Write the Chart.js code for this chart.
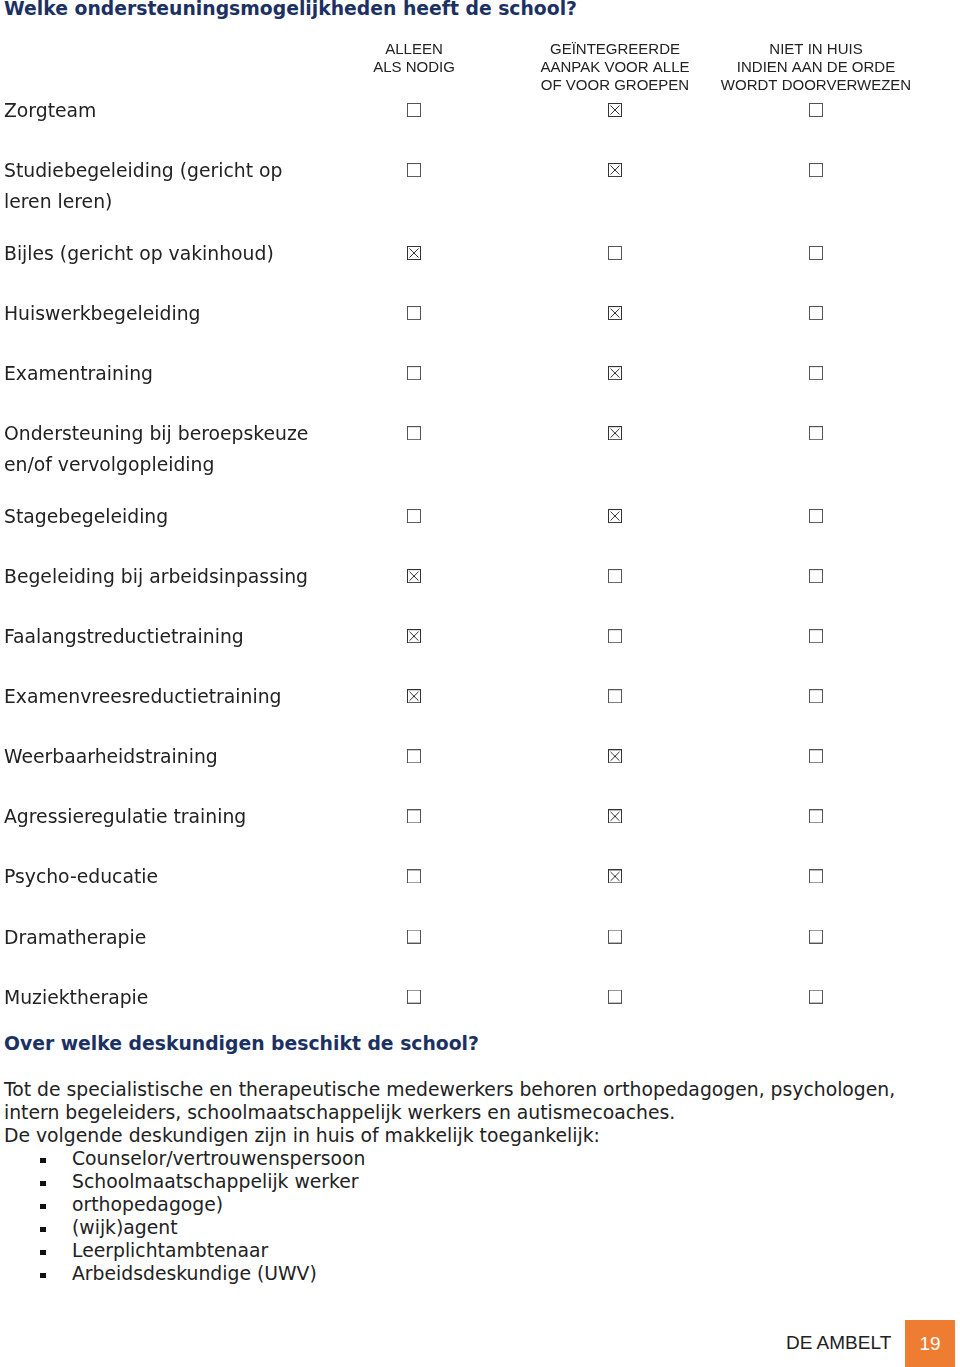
<!DOCTYPE html>
<html lang="nl">
<head>
<meta charset="utf-8">
<title>Ondersteuningsmogelijkheden</title>
<script src="https://cdn.jsdelivr.net/npm/chart.js@4.4.1/dist/chart.umd.min.js"></script>
<style>
  body { margin: 0; width: 960px; height: 1367px; position: relative; overflow: hidden; background: #fff;
         font-family: "DejaVu Sans", Verdana, sans-serif; color: #222; }
  .abs { position: absolute; white-space: nowrap; }
  .head { font-size: 18.8px; font-weight: bold; color: #1c3163; line-height: 23px; left: 4px; }
  .body { font-size: 18.8px; line-height: 23px; left: 4px; }
  .bullets { font-size: 18.8px; line-height: 23px; left: 0; }
  .bullets div { position: relative; padding-left: 72px; }
  .bullets div::before { content: ''; position: absolute; left: 40px; top: 11px; width: 6px; height: 5px; background: #111; }
  #grid { position: absolute; left: 0; top: 30px; }
  .footer { font-family: "Liberation Sans", Arial, sans-serif; font-size: 19px; }
  .pageno { left: 905px; top: 1320px; width: 50px; height: 47px; background: #ee7d32; color: #fff;
            line-height: 47px; text-align: center; }
</style>
</head>
<body>
<div class="abs head" style="top:-3px">Welke ondersteuningsmogelijkheden heeft de school?</div>
<canvas id="grid" width="960" height="987"></canvas>

<div class="abs head" style="top:1032px">Over welke deskundigen beschikt de school?</div>
<div class="abs body" style="top:1078px">
  Tot de specialistische en therapeutische medewerkers behoren orthopedagogen, psychologen,<br>
  intern begeleiders, schoolmaatschappelijk werkers en autismecoaches.<br>
  De volgende deskundigen zijn in huis of makkelijk toegankelijk:
</div>
<div class="abs bullets" id="experts" style="top:1147px"></div>

<div class="abs footer" style="left:786px; top:1332px;">DE AMBELT</div>
<div class="abs footer pageno">19</div>

<script>
// rows of the table
const rowLabels = [
    'Zorgteam',
    ['Studiebegeleiding (gericht op', 'leren leren)'],
    'Bijles (gericht op vakinhoud)',
    'Huiswerkbegeleiding',
    'Examentraining',
    ['Ondersteuning bij beroepskeuze', 'en/of vervolgopleiding'],
    'Stagebegeleiding',
    'Begeleiding bij arbeidsinpassing',
    'Faalangstreductietraining',
    'Examenvreesreductietraining',
    'Weerbaarheidstraining',
    'Agressieregulatie training',
    'Psycho-educatie',
    'Dramatherapie',
    'Muziektherapie'
];

// column headers
const columnLabels = [
    ['ALLEEN', 'ALS NODIG'],
    ['GEÏNTEGREERDE', 'AANPAK VOOR ALLE', 'OF VOOR GROEPEN'],
    ['NIET IN HUIS', 'INDIEN AAN DE ORDE', 'WORDT DOORVERWEZEN']
];

// ticked column per row, -1 = nothing ticked
const checkedColumn = [1, 1, 0, 1, 1, 1, 1, 0, 0, 0, 1, 1, 1, -1, -1];

const experts = [
    'Counselor/vertrouwenspersoon',
    'Schoolmaatschappelijk werker',
    'orthopedagoge)',
    '(wijk)agent',
    'Leerplichtambtenaar',
    'Arbeidsdeskundige (UWV)'
];

document.getElementById('experts').innerHTML = experts.map(e => `<div>${e}</div>`).join('');

// a row with a two-line label takes a bit more room
const rowPos = [];
let pos = 0;
rowLabels.forEach(label => {
    rowPos.push(pos);
    const lines = Array.isArray(label) ? label.length : 1;
    pos += 1 + (lines - 1) * 0.38;
});

function makeBox(checked) {
    const c = document.createElement('canvas');
    c.width = 14;
    c.height = 14;
    const g = c.getContext('2d');
    g.strokeStyle = checked ? '#333' : '#555';
    g.lineWidth = 1;
    g.strokeRect(0.5, 0.5, 13, 13);
    if (checked) {
        g.beginPath();
        g.moveTo(2.5, 2.5);
        g.lineTo(11.5, 11.5);
        g.moveTo(11.5, 2.5);
        g.lineTo(2.5, 11.5);
        g.stroke();
    }
    return c;
}
const boxOn = makeBox(true);
const boxOff = makeBox(false);

// row labels drawn on the left, first line level with the checkboxes
const rowLabelPlugin = {
    id: 'rowLabels',
    afterDatasetsDraw(chart) {
        const { ctx, scales: { y } } = chart;
        ctx.save();
        ctx.font = '18.8px "DejaVu Sans", Verdana, sans-serif';
        ctx.fillStyle = '#222';
        ctx.textBaseline = 'alphabetic';
        ctx.textAlign = 'left';
        rowLabels.forEach((label, i) => {
            const lines = Array.isArray(label) ? label : [label];
            const py = y.getPixelForValue(rowPos[i]);
            lines.forEach((line, j) => ctx.fillText(line, 4, py + 7 + j * 31));
        });
        ctx.restore();
    }
};

new Chart(document.getElementById('grid'), {
    type: 'scatter',
    data: {
        datasets: columnLabels.map((col, c) => ({
            label: col.join(' '),
            data: rowLabels.map((r, i) => ({ x: c, y: rowPos[i] })),
            pointStyle: ctx => checkedColumn[ctx.dataIndex] === c ? boxOn : boxOff,
            pointRadius: 7
        }))
    },
    options: {
        responsive: false,
        animation: false,
        events: [],
        layout: { padding: { left: 313.5, right: 43.5, top: 7, bottom: 0 } },
        scales: {
            x: {
                type: 'linear',
                position: 'top',
                min: -0.5,
                max: 2.5,
                afterBuildTicks: scale => {
                    scale.ticks = columnLabels.map((_, i) => ({ value: i }));
                },
                grid: { display: false, drawTicks: false },
                border: { display: false },
                ticks: {
                    callback: v => columnLabels[v],
                    crossAlign: 'far',
                    padding: 4,
                    autoSkip: false,
                    maxRotation: 0,
                    color: '#222',
                    font: { family: '"Liberation Sans", Arial, sans-serif', size: 15, lineHeight: 1.2 }
                }
            },
            y: {
                type: 'linear',
                reverse: true,
                min: -0.183,
                max: 14.967,
                display: false
            }
        },
        plugins: {
            legend: { display: false },
            tooltip: { enabled: false }
        }
    },
    plugins: [rowLabelPlugin]
});
</script>
</body>
</html>
